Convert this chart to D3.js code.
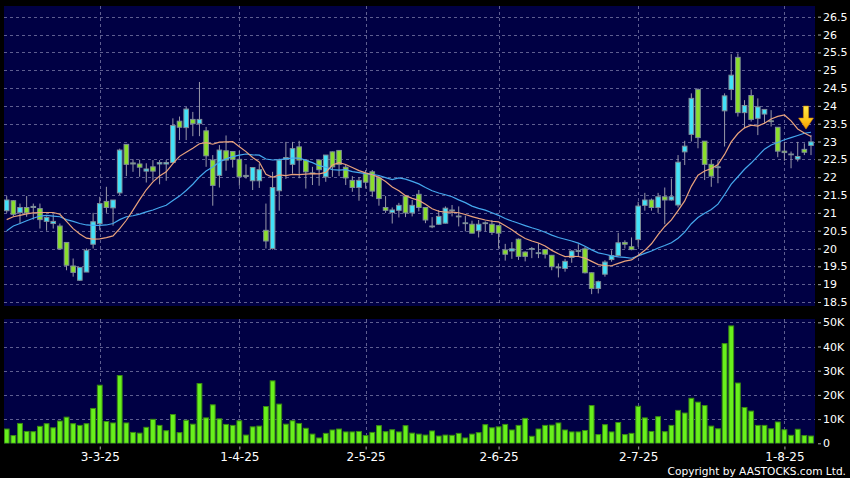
<!DOCTYPE html>
<html><head><meta charset="utf-8">
<script src="https://cdn.jsdelivr.net/npm/d3@7"></script>
<style>
html,body{margin:0;padding:0;background:#000;}
svg{display:block;}
text{font-family:"DejaVu Sans",sans-serif;fill:#fff;}
</style></head><body>
<svg id="c" width="850" height="478"></svg>
<script>
// ---------- DATA ----------
const dates = [
"11-2-25","12-2-25","13-2-25","14-2-25","17-2-25","18-2-25","19-2-25","20-2-25","21-2-25","24-2-25","25-2-25","26-2-25","27-2-25","28-2-25",
"3-3-25","4-3-25","5-3-25","6-3-25","7-3-25","10-3-25","11-3-25","12-3-25","13-3-25","14-3-25","17-3-25","18-3-25","19-3-25","20-3-25","21-3-25","24-3-25","25-3-25","26-3-25","27-3-25","28-3-25","31-3-25",
"1-4-25","2-4-25","3-4-25","7-4-25","8-4-25","9-4-25","10-4-25","11-4-25","14-4-25","15-4-25","16-4-25","17-4-25","22-4-25","23-4-25","24-4-25","25-4-25","28-4-25","29-4-25","30-4-25",
"2-5-25","6-5-25","7-5-25","8-5-25","9-5-25","12-5-25","13-5-25","14-5-25","15-5-25","16-5-25","19-5-25","20-5-25","21-5-25","22-5-25","23-5-25","26-5-25","27-5-25","28-5-25","29-5-25","30-5-25",
"2-6-25","3-6-25","4-6-25","5-6-25","6-6-25","9-6-25","10-6-25","11-6-25","12-6-25","13-6-25","16-6-25","17-6-25","18-6-25","19-6-25","20-6-25","23-6-25","24-6-25","25-6-25","26-6-25","27-6-25","30-6-25",
"2-7-25","3-7-25","4-7-25","7-7-25","8-7-25","9-7-25","10-7-25","11-7-25","14-7-25","15-7-25","16-7-25","17-7-25","18-7-25","21-7-25","22-7-25","23-7-25","24-7-25","25-7-25","28-7-25","29-7-25","30-7-25","31-7-25",
"1-8-25","4-8-25","5-8-25","6-8-25","7-8-25"];

const open = [21.06,21.34,21.01,21.15,21.15,21.12,20.76,20.70,20.63,20.17,
19.51,19.11,19.34,20.12,20.70,21.32,21.14,21.56,22.92,22.40,
22.37,22.17,22.29,22.37,22.37,22.41,23.57,23.39,23.62,23.50,
23.30,22.48,22.05,22.74,22.72,22.50,22.05,21.90,21.90,20.51,
20.00,21.62,22.50,22.36,22.85,22.48,22.10,22.48,22.01,22.71,
22.75,22.28,21.91,21.71,22.10,22.15,21.98,21.15,21.01,21.07,
21.47,21.00,21.52,21.15,20.62,20.68,20.71,21.07,20.90,20.71,
20.68,20.50,20.71,20.68,20.64,19.96,19.93,20.26,19.90,19.99,
19.87,19.97,19.81,19.47,19.44,19.75,19.93,19.99,19.32,18.88,
19.28,19.69,19.80,20.17,20.05,20.25,21.21,21.36,21.15,21.45,
21.36,21.22,22.71,23.20,24.46,23.01,22.36,22.27,23.86,24.46,
25.36,23.81,24.29,23.65,23.77,23.58,23.40,22.73,22.65,22.51,
22.78,22.89];

const high = [21.47,21.36,21.26,21.47,21.26,21.26,20.90,20.96,20.70,20.17,
19.72,19.47,20.00,21.00,21.45,21.73,21.36,22.80,22.92,22.50,
22.49,22.39,22.48,22.48,22.48,23.65,23.70,23.97,23.83,24.67,
23.41,22.62,22.90,23.17,22.72,22.74,22.36,22.27,22.38,21.26,
22.15,22.52,22.99,22.99,23.02,22.50,22.29,22.50,22.62,22.72,
22.76,22.35,22.03,22.00,22.20,22.20,22.03,21.47,21.15,21.28,
21.48,21.36,21.64,21.15,20.88,21.08,21.18,21.22,21.18,20.92,
20.78,20.80,20.76,20.80,20.66,20.13,20.18,20.28,19.92,20.04,
20.15,19.98,19.82,19.58,19.71,19.95,20.12,20.05,19.33,19.10,
19.67,19.95,20.44,20.23,20.31,21.31,21.56,21.40,21.56,21.71,
21.96,22.62,23.02,24.35,24.49,23.01,22.50,22.48,24.35,25.45,
25.47,24.16,24.46,24.21,23.90,23.88,23.40,22.99,22.72,22.99,
22.95,23.18];

const low = [21.00,20.90,20.70,20.89,20.81,20.56,20.50,20.56,19.97,19.39,
19.21,19.09,19.34,20.00,20.51,21.00,20.64,21.50,22.03,22.15,
22.01,21.85,21.90,21.80,21.90,22.41,23.04,23.04,23.15,23.15,
22.29,21.20,21.71,22.18,22.27,21.76,21.96,21.64,21.70,20.00,
19.97,21.06,21.95,22.10,21.97,21.68,21.78,21.76,21.87,22.01,
22.03,21.78,21.59,21.34,21.68,21.45,21.20,21.00,20.70,20.87,
20.88,20.90,21.04,20.71,20.57,20.66,20.70,20.90,20.62,20.48,
20.43,20.31,20.48,20.38,20.00,19.66,19.71,19.68,19.64,19.73,
19.73,19.72,19.39,19.19,19.35,19.60,19.77,19.30,18.72,18.74,
19.21,19.63,19.78,20.00,19.95,20.05,21.06,21.06,21.00,20.68,
21.34,21.15,22.34,23.00,22.81,21.92,21.73,21.83,22.86,24.16,
23.70,23.37,23.56,23.18,23.50,23.42,22.56,22.46,22.25,22.44,
22.62,22.62];

const close = [21.36,20.96,21.15,21.00,21.18,20.81,20.87,20.76,19.99,19.53,
19.33,19.47,19.95,20.75,21.26,21.15,21.36,22.76,22.36,22.37,
22.28,22.23,22.17,22.41,22.41,23.45,23.40,23.91,23.50,23.62,
22.60,21.77,22.76,22.48,22.50,22.01,22.02,22.27,22.21,20.21,
21.71,22.48,22.55,22.80,22.48,22.15,22.12,22.21,22.62,22.29,
22.36,21.98,21.71,21.91,21.86,21.61,21.40,21.07,21.08,21.21,
21.00,21.21,21.15,20.80,20.63,20.90,21.13,21.08,20.91,20.72,
20.43,20.68,20.72,20.45,20.43,19.84,19.99,19.78,19.78,20.00,
19.88,19.84,19.49,19.48,19.64,19.93,19.94,19.32,18.88,19.07,
19.62,19.80,20.16,20.12,19.97,21.19,21.36,21.15,21.45,21.36,
21.45,22.42,22.87,24.21,23.11,22.36,22.03,22.29,24.28,24.86,
23.81,24.01,23.62,23.97,23.90,23.56,22.73,22.69,22.64,22.58,
22.70,22.99];

// volume in thousands of shares
const volumeK = [5.9,3.2,8.2,4.9,4.8,7.0,8.1,6.4,9.2,10.8,
8.1,7.4,8.1,14.4,24.0,9.0,8.4,28.0,8.4,4.5,
4.2,6.6,9.9,7.4,5.2,11.9,4.4,9.5,7.9,24.7,
10.5,15.9,10.1,7.8,7.4,9.3,3.4,6.8,7.1,15.2,
25.8,16.2,7.9,9.3,8.2,6.2,3.8,2.2,4.1,5.5,
5.9,4.7,4.7,4.9,3.2,4.5,7.3,4.8,5.6,4.7,
7.3,4.2,3.8,3.4,5.1,3.0,3.4,3.3,4.1,2.2,
3.8,4.4,7.7,6.4,6.8,7.8,5.5,7.4,10.3,2.9,
5.9,7.4,7.5,8.4,5.5,4.7,4.7,5.3,15.6,3.6,
7.7,4.7,8.6,3.6,4.1,15.3,10.5,4.9,11.0,4.8,
7.4,13.6,12.5,18.6,17.0,15.6,7.1,6.0,41.2,48.5,
24.9,14.8,13.3,7.4,7.4,6.0,8.8,5.6,3.3,5.8,
3.2,3.0];

// moving-average values for the first bars (need earlier history)
const ma10Head = [20.81,20.89,20.93,20.97,21.00,21.01,21.01,21.01,20.96];
const ma20Head = [20.50,20.63,20.70,20.78,20.85,20.91,20.93,20.91,20.89,20.81,20.76,20.70,20.66,20.65,20.65,20.66,20.70,20.81,20.89];

const priceTicks = [18.5,19,19.5,20,20.5,21,21.5,22,22.5,23,23.5,24,24.5,25,25.5,26,26.5];
const volumeTicks = [0,10,20,30,40,50];

// ---------- DERIVED ----------
const n = close.length;
function sma(period, head){
  return close.map((c,i)=>{
    if(i < period-1) return head[i];
    let s=0; for(let k=i-period+1;k<=i;k++) s+=close[k];
    return s/period;
  });
}
const ma10 = sma(10, ma10Head);
const ma20 = sma(20, ma20Head);
const monthStarts = dates.map((d,i)=>i).filter(i=> i>0 && dates[i].split("-")[1] !== dates[i-1].split("-")[1]);

// ---------- LAYOUT ----------
const main = {l:4, r:815, t:6, b:306};
const vol  = {l:4, r:815, t:319, b:443.5};

const x  = d3.scaleLinear().domain([0, n-1]).range([6.7, 811]);
const yP = d3.scaleLinear().domain([18.5, 26.5]).range([302, 16.7]);
const yV = d3.scaleLinear().domain([0, 50]).range([443.3, 322.3]);

const C = {
  panel:"#000044", grid:"#5e5e90", up:"#42e2f8", down:"#8ade2c",
  bodyStroke:"#7f8e98", wick:"#9898a8", ma10:"#e9a27c", ma20:"#45a8ee",
  vol:"#68f01c", volStroke:"#3a8c12", tick:"#aaaaaa"
};

const svg = d3.select("#c");
svg.append("rect").attr("width",850).attr("height",478).attr("fill","#000");

const defs = svg.append("defs");
defs.append("clipPath").attr("id","clipMain").append("rect")
  .attr("x",main.l).attr("y",main.t).attr("width",main.r-main.l).attr("height",main.b-main.t);
defs.append("clipPath").attr("id","clipVol").append("rect")
  .attr("x",vol.l).attr("y",vol.t).attr("width",vol.r-vol.l).attr("height",vol.b-vol.t);
const grad = defs.append("linearGradient").attr("id","arrowGrad").attr("x1",0).attr("y1",0).attr("x2",0).attr("y2",1);
grad.append("stop").attr("offset","0%").attr("stop-color","#ffe84a");
grad.append("stop").attr("offset","55%").attr("stop-color","#ffc81e");
grad.append("stop").attr("offset","100%").attr("stop-color","#f29a00");

// panels
svg.append("rect").attr("x",main.l).attr("y",main.t).attr("width",main.r-main.l).attr("height",main.b-main.t).attr("fill",C.panel);
svg.append("rect").attr("x",vol.l).attr("y",vol.t).attr("width",vol.r-vol.l).attr("height",vol.b-vol.t).attr("fill",C.panel);

// grids
const gMain = svg.append("g").attr("clip-path","url(#clipMain)");
gMain.selectAll("line.hg").data(priceTicks).join("line")
  .attr("x1",main.l).attr("x2",main.r)
  .attr("y1",d=>Math.round(yP(d))+0.5).attr("y2",d=>Math.round(yP(d))+0.5)
  .attr("stroke",C.grid).attr("stroke-dasharray","3,3");
gMain.selectAll("line.vg").data(monthStarts).join("line")
  .attr("x1",d=>Math.round(x(d))+0.5).attr("x2",d=>Math.round(x(d))+0.5)
  .attr("y1",main.t).attr("y2",main.b)
  .attr("stroke",C.grid).attr("stroke-dasharray","3,3");

const gVol = svg.append("g").attr("clip-path","url(#clipVol)");
gVol.selectAll("line.hg").data(volumeTicks.filter(v=>v>0)).join("line")
  .attr("x1",vol.l).attr("x2",vol.r)
  .attr("y1",d=>Math.round(yV(d))+0.5).attr("y2",d=>Math.round(yV(d))+0.5)
  .attr("stroke",C.grid).attr("stroke-dasharray","3,3");
gVol.selectAll("line.vg").data(monthStarts).join("line")
  .attr("x1",d=>Math.round(x(d))+0.5).attr("x2",d=>Math.round(x(d))+0.5)
  .attr("y1",vol.t).attr("y2",vol.b)
  .attr("stroke",C.grid).attr("stroke-dasharray","3,3");

// candles
const idx = d3.range(n);
gMain.selectAll("line.wick").data(idx).join("line")
  .attr("x1",i=>x(i)).attr("x2",i=>x(i))
  .attr("y1",i=>yP(high[i])).attr("y2",i=>yP(low[i]))
  .attr("stroke",C.wick).attr("stroke-width",1);
const bw = 4.6;
gMain.selectAll("rect.body").data(idx).join("rect")
  .attr("x",i=>x(i)-bw/2)
  .attr("y",i=>yP(Math.max(open[i],close[i])))
  .attr("width",bw)
  .attr("height",i=>Math.max(0.8, Math.abs(yP(open[i])-yP(close[i]))))
  .attr("fill",i=> close[i]>=open[i] ? C.up : C.down)
  .attr("stroke",C.bodyStroke).attr("stroke-width",1);

// moving averages
const line = d3.line().x((d,i)=>x(i)).y(d=>yP(d));
gMain.append("path").datum(ma20).attr("d",line).attr("fill","none").attr("stroke",C.ma20).attr("stroke-width",1.2);
gMain.append("path").datum(ma10).attr("d",line).attr("fill","none").attr("stroke",C.ma10).attr("stroke-width",1.2);

// arrow marker on last bar
const ax = x(n-1) - 5, tip = yP(high[n-1]) - 6;
const arrowPts = [[ax-2.6,tip-23],[ax+2.6,tip-23],[ax+2.6,tip-11],[ax+7.4,tip-11],[ax,tip],[ax-7.4,tip-11],[ax-2.6,tip-11]];
svg.append("path").attr("d","M"+arrowPts.map(p=>p.join(",")).join("L")+"Z")
  .attr("fill","url(#arrowGrad)").attr("stroke","#d88a00").attr("stroke-width",0.6);

// volume bars
const vw = 4.8;
gVol.selectAll("rect.v").data(idx).join("rect")
  .attr("x",i=>x(i)-vw/2).attr("y",i=>yV(volumeK[i]))
  .attr("width",vw).attr("height",i=>yV(0)-yV(volumeK[i]))
  .attr("fill",C.vol).attr("stroke",C.volStroke).attr("stroke-width",1);

// axes
function styleAxis(g, size){
  g.select(".domain").remove();
  g.selectAll(".tick line").attr("stroke",C.tick);
  g.selectAll(".tick text").attr("fill","#fff").attr("font-size",size).attr("font-family","DejaVu Sans, sans-serif");
}
const ayP = svg.append("g").attr("transform","translate(818,0)")
  .call(d3.axisRight(yP).tickValues(priceTicks).tickSize(3).tickPadding(2).tickFormat(d=>String(d)));
styleAxis(ayP, 11);
const ayV = svg.append("g").attr("transform","translate(818,0)")
  .call(d3.axisRight(yV).tickValues(volumeTicks).tickSize(3).tickPadding(2).tickFormat(d=> d===0 ? "0" : d+"K"));
styleAxis(ayV, 11);
const axX = svg.append("g").attr("transform","translate(0,446.5)")
  .call(d3.axisBottom(x).tickValues(monthStarts).tickSize(3).tickPadding(3).tickFormat(i=>dates[i]));
styleAxis(axX, 12);

svg.append("text").attr("x",846).attr("y",475).attr("text-anchor","end")
  .attr("font-family","'DejaVu Sans Condensed', 'Liberation Sans Narrow', 'DejaVu Sans', sans-serif")
  .attr("font-size",10.6)
  .text("Copyright by AASTOCKS.com Ltd.");
</script>
</body></html>
